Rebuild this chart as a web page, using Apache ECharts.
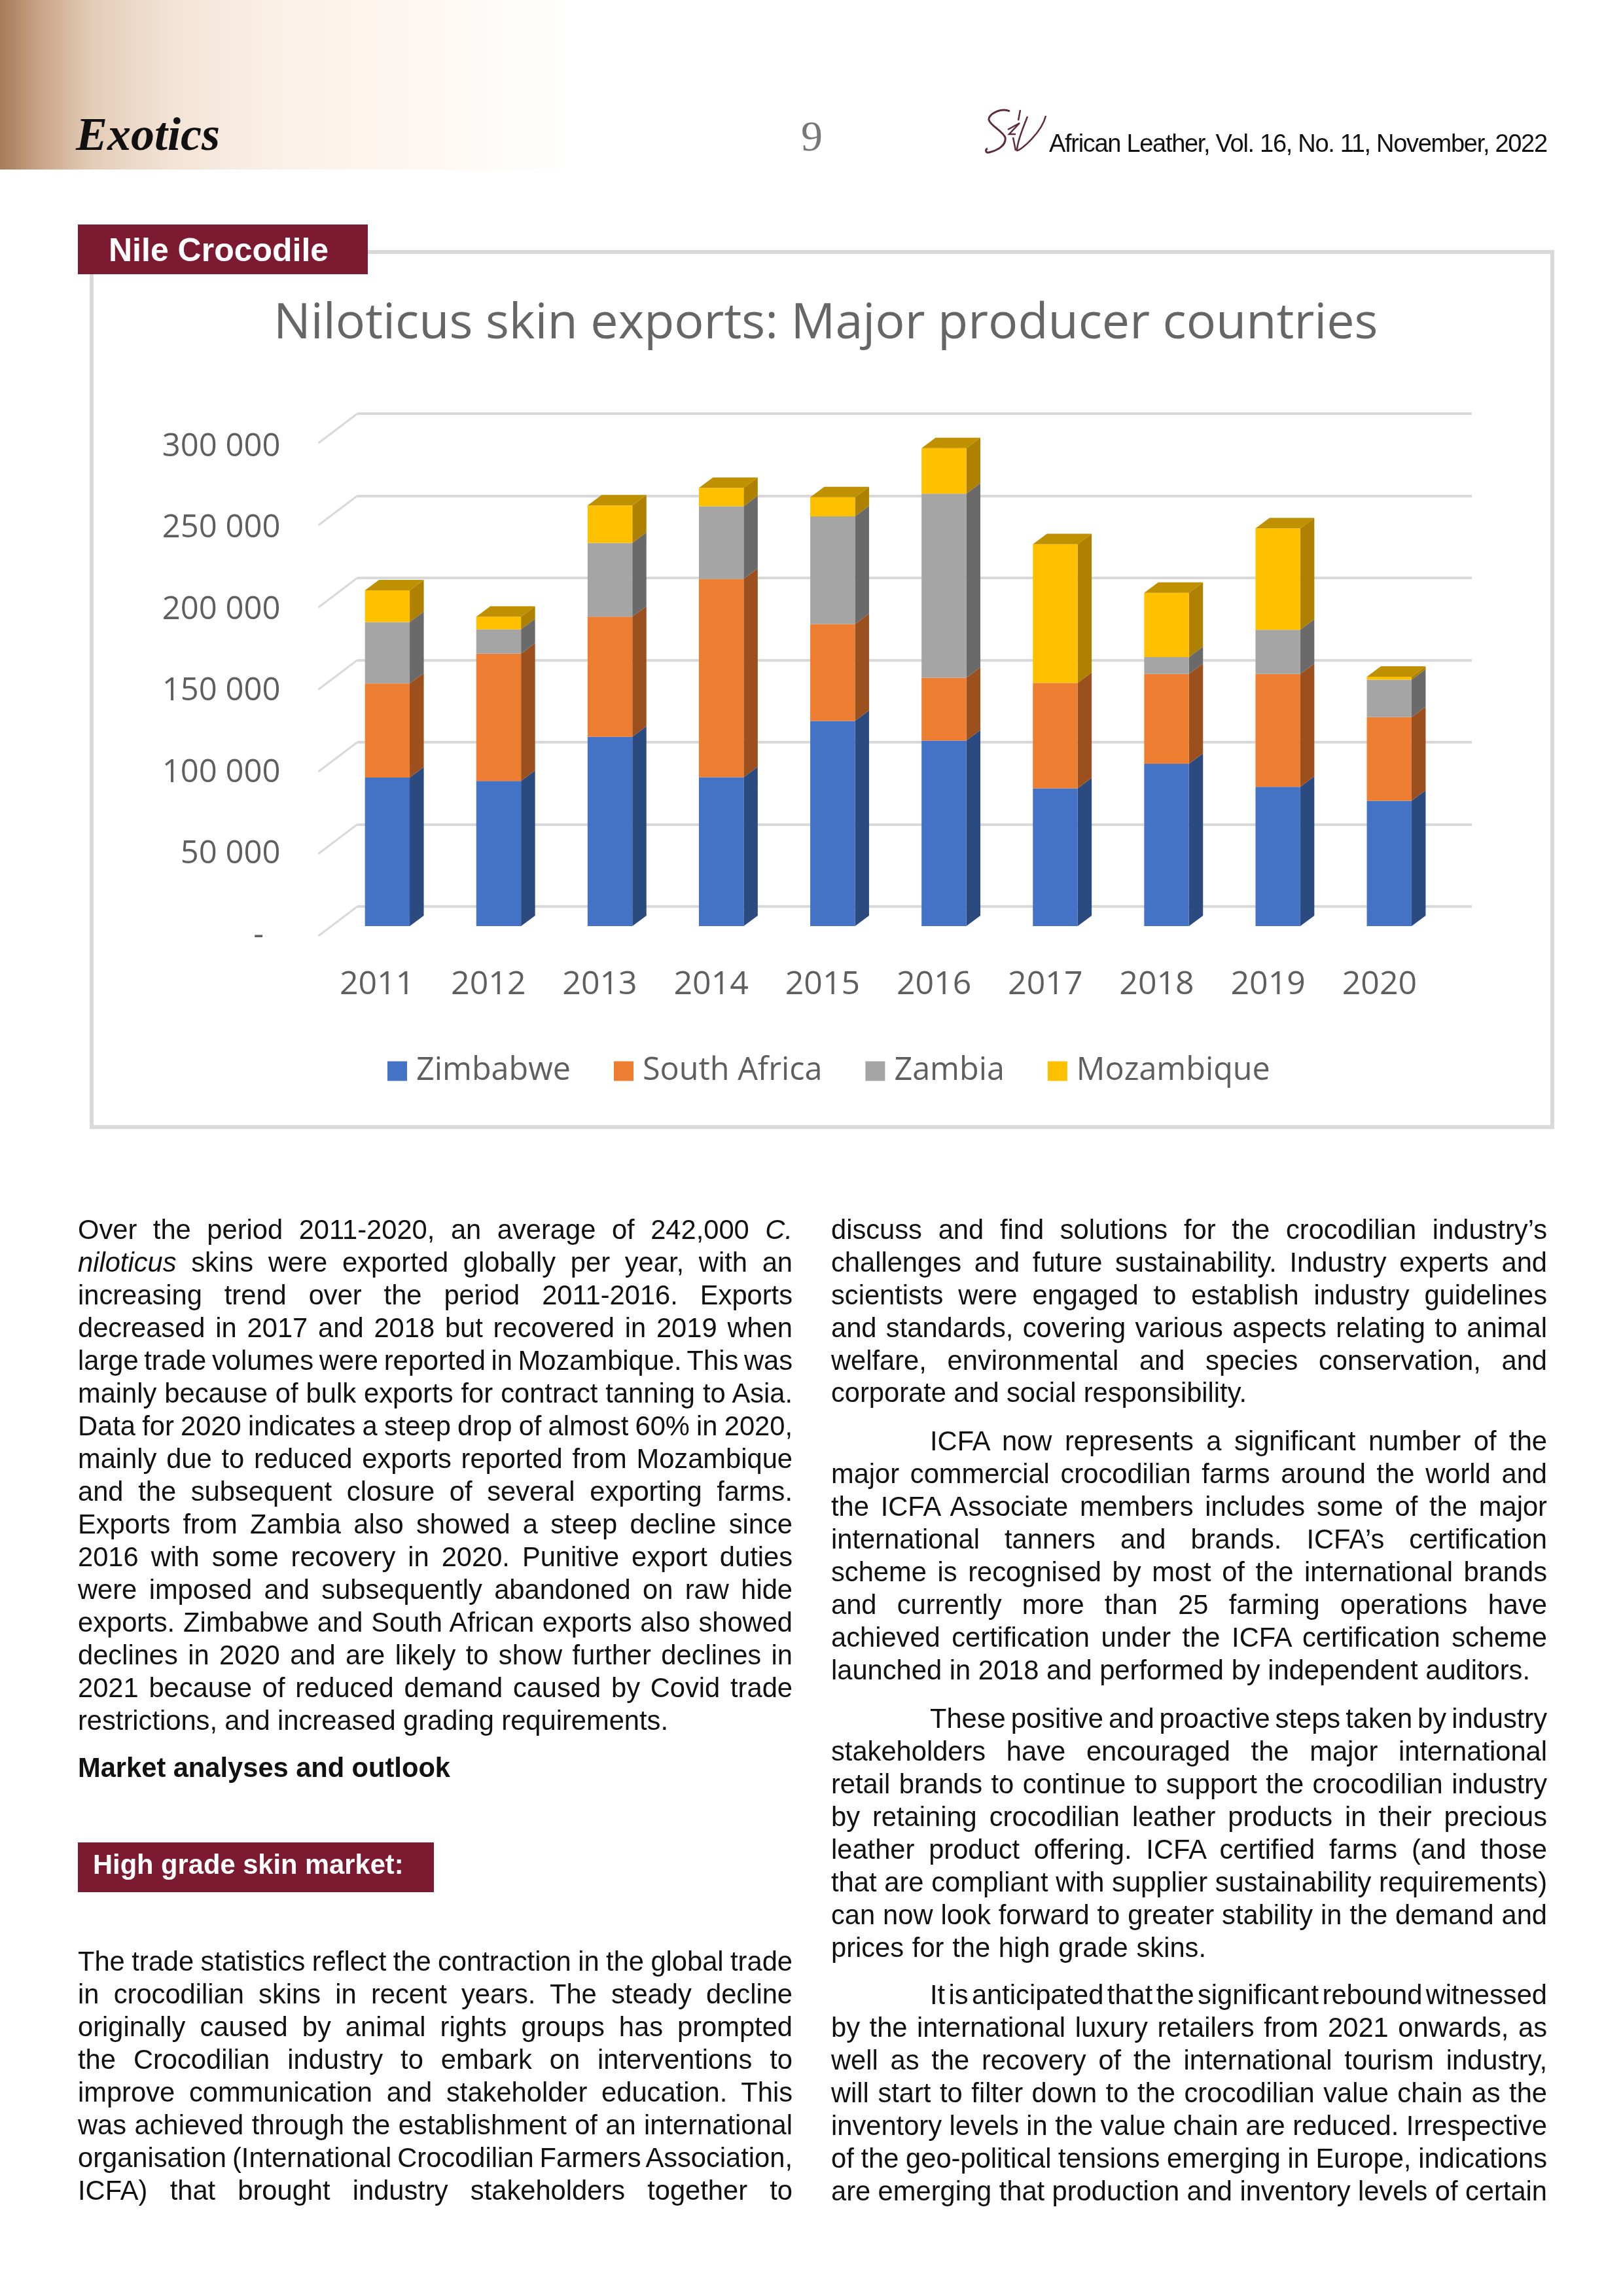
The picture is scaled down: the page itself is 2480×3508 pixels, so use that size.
<!DOCTYPE html>
<html>
<head>
<meta charset="utf-8">
<script src="https://cdn.jsdelivr.net/npm/echarts@6/dist/echarts.min.js"></script>
<style>
html,body{margin:0;padding:0;background:#fff;width:2480px;height:3508px;overflow:hidden}
#chart{position:absolute;left:0;top:0;width:2480px;height:3508px;filter:blur(0.7px)}
#page{position:absolute;left:0;top:0;width:2480px;height:3508px;pointer-events:none}
.band{position:absolute;left:0;top:0;width:880px;height:259px;background:linear-gradient(90deg,#a67b57 0%,#c9a588 7%,#e4cdb8 16%,#f3e3d5 30%,#fbf1e8 50%,#fdf6f0 70%,#ffffff 100%)}
.abs{position:absolute;white-space:pre}
.box{position:absolute;background:#7b1a30}
.ln{position:absolute;white-space:pre;font-family:"Liberation Sans",Arial,sans-serif;font-size:41.67px;line-height:50px;color:#111}
</style>
</head>
<body>
<div id="chart"></div>
<div id="page">
  <div class="band"></div>
  <div class="abs" style="left:116px;top:164px;font:italic bold 72px 'Liberation Serif',serif;color:#111">Exotics</div>
  <div class="abs" style="left:1224px;top:170px;font:66px 'Liberation Serif',serif;color:#777">9</div>
  <svg class="abs" style="left:1480px;top:150px" width="200" height="100" viewBox="0 0 200 100">
    <path d="M63 20 C50 14 30 24 31 33 C33 42 52 50 56 60 C58 72 44 80 31 83 C25 84 26 78 29 77" fill="none" stroke="#5c2c3e" stroke-width="3"/>
    <path d="M79 18 L76 34 M60 48 L78 38 L62 55 L72 55 M68 60 L72 80" fill="none" stroke="#5c2c3e" stroke-width="2.5"/>
    <path d="M90 28 C84 44 74 66 74 80 C80 80 112 52 118 27" fill="none" stroke="#5c2c3e" stroke-width="2.5"/>
  </svg>
  <div class="abs" id="hdr" style="left:1603px;top:198px;font:38px 'Liberation Sans',sans-serif;letter-spacing:-1.3px;color:#111">African Leather, Vol. 16, No. 11, November, 2022</div>
  <div class="box" style="left:119px;top:343px;width:443px;height:76px"></div>
  <div class="abs" style="left:166px;top:352px;font:bold 50px/60px 'Liberation Sans',sans-serif;color:#fff">Nile Crocodile</div>
  <div class="box" style="left:119px;top:2815px;width:544px;height:76px"></div>
  <div class="abs" style="left:142px;top:2824px;font:bold 41.67px/50px 'Liberation Sans',sans-serif;color:#fff">High grade skin market:</div>
  <div id="textCols"></div>
</div>
<script>
// ---- chart data ----
const categories = ['2011','2012','2013','2014','2015','2016','2017','2018','2019','2020'];
const yTicks = [0,50000,100000,150000,200000,250000,300000];
const zimbabwe   = [90400, 88300,115200, 90600,124900,112900, 83900, 98800, 84800, 76300];
const southAfrica= [57300, 77500, 73100,120800, 59000, 38300, 64100, 54700, 68700, 50900];
const zambia     = [37400, 14900, 45000, 44200, 65500,112000,     0, 10200, 26900, 22800];
const mozambique = [19300,  7600, 22800, 11100, 11700, 27700, 84500, 39200, 61700,  1800];
const seriesNames = ['Zimbabwe','South Africa','Zambia','Mozambique'];
const seriesValues = [zimbabwe,southAfrica,zambia,mozambique];
const faceColors = ['#4472c4','#ed7d31','#a5a5a5','#ffc000'];
const sideColors = ['#2b4a80','#9c501e','#6a6a6a','#ae8200'];
const topColor = '#bf9000';
const chartTitle = 'Niloticus skin exports: Major producer countries';

// ---- page text ----
const L0=119, L1=1211, R0=1270, R1=2364, RI=1421;
const leftLines = [
 [[L0,L1,1878],'Over the period 2011-2020, an average of 242,000 <i>C.</i>'],
 [[L0,L1,1928],'<i>niloticus</i> skins were exported globally per year, with an'],
 [[L0,L1,1978],'increasing trend over the period 2011-2016. Exports'],
 [[L0,L1,2028],'decreased in 2017 and 2018 but recovered in 2019 when'],
 [[L0,L1,2078],'large trade volumes were reported in Mozambique. This was'],
 [[L0,L1,2128],'mainly because of bulk exports for contract tanning to Asia.'],
 [[L0,L1,2178],'Data for 2020 indicates a steep drop of almost 60% in 2020,'],
 [[L0,L1,2228],'mainly due to reduced exports reported from Mozambique'],
 [[L0,L1,2278],'and the subsequent closure of several exporting farms.'],
 [[L0,L1,2328],'Exports from Zambia also showed a steep decline since'],
 [[L0,L1,2378],'2016 with some recovery in 2020. Punitive export duties'],
 [[L0,L1,2428],'were imposed and subsequently abandoned on raw hide'],
 [[L0,L1,2478],'exports. Zimbabwe and South African exports also showed'],
 [[L0,L1,2528],'declines in 2020 and are likely to show further declines in'],
 [[L0,L1,2578],'2021 because of reduced demand caused by Covid trade'],
 [[L0,1021,2628],'restrictions, and increased grading requirements.'],
 [[L0,688,2700],'<b>Market analyses and outlook</b>'],
 [[L0,L1,2996],'The trade statistics reflect the contraction in the global trade'],
 [[L0,L1,3046],'in crocodilian skins in recent years. The steady decline'],
 [[L0,L1,3096],'originally caused by animal rights groups has prompted'],
 [[L0,L1,3146],'the Crocodilian industry to embark on interventions to'],
 [[L0,L1,3196],'improve communication and stakeholder education. This'],
 [[L0,L1,3246],'was achieved through the establishment of an international'],
 [[L0,L1,3296],'organisation (International Crocodilian Farmers Association,'],
 [[L0,L1,3346],'ICFA) that brought industry stakeholders together to']
];
const rightLines = [
 [[R0,R1,1878],'discuss and find solutions for the crocodilian industry\u2019s'],
 [[R0,R1,1928],'challenges and future sustainability. Industry experts and'],
 [[R0,R1,1978],'scientists were engaged to establish industry guidelines'],
 [[R0,R1,2028],'and standards, covering various aspects relating to animal'],
 [[R0,R1,2078],'welfare, environmental and species conservation, and'],
 [[R0,1905,2127],'corporate and social responsibility.'],
 [[RI,R1,2201],'ICFA now represents a significant number of the'],
 [[R0,R1,2251],'major commercial crocodilian farms around the world and'],
 [[R0,R1,2301],'the ICFA Associate members includes some of the major'],
 [[R0,R1,2351],'international tanners and brands. ICFA\u2019s certification'],
 [[R0,R1,2401],'scheme is recognised by most of the international brands'],
 [[R0,R1,2451],'and currently more than 25 farming operations have'],
 [[R0,R1,2501],'achieved certification under the ICFA certification scheme'],
 [[R0,2338,2551],'launched in 2018 and performed by independent auditors.'],
 [[RI,R1,2625],'These positive and proactive steps taken by industry'],
 [[R0,R1,2675],'stakeholders have encouraged the major international'],
 [[R0,R1,2725],'retail brands to continue to support the crocodilian industry'],
 [[R0,R1,2775],'by retaining crocodilian leather products in their precious'],
 [[R0,R1,2825],'leather product offering. ICFA certified farms (and those'],
 [[R0,R1,2875],'that are compliant with supplier sustainability requirements)'],
 [[R0,R1,2925],'can now look forward to greater stability in the demand and'],
 [[R0,1843,2975],'prices for the high grade skins.'],
 [[RI,R1,3047],'It is anticipated that the significant rebound witnessed'],
 [[R0,R1,3097],'by the international luxury retailers from 2021 onwards, as'],
 [[R0,R1,3147],'well as the recovery of the international tourism industry,'],
 [[R0,R1,3197],'will start to filter down to the crocodilian value chain as the'],
 [[R0,R1,3247],'inventory levels in the value chain are reduced. Irrespective'],
 [[R0,R1,3297],'of the geo-political tensions emerging in Europe, indications'],
 [[R0,R1,3347],'are emerging that production and inventory levels of certain']
];

const cols = document.getElementById('textCols');
leftLines.concat(rightLines).forEach(function(l){
  const d = document.createElement('div');
  d.className = 'ln';
  d.innerHTML = l[1];
  d.style.left = l[0][0]+'px';
  d.style.top = (l[0][2]-24.5)+'px';
  cols.appendChild(d);
  const natural = d.getBoundingClientRect().width;
  const target = l[0][1]-l[0][0];
  const gaps = (d.textContent.match(/ /g)||[]).length;
  if (gaps>0) d.style.wordSpacing = ((target-natural)/gaps)+'px';
});

// ---- ECharts ----
const FONT = '"Open Sans","Noto Sans",sans-serif';
const TXT = '#5f5f5f';
const DX = 21.5, DY = 16;

function barSeries(idx){
  const below = categories.map(function(_,i){
    let s=0; for(let k=0;k<idx;k++) s+=seriesValues[k][i]; return s;
  });
  const isTop = idx===seriesValues.length-1;
  return {
    name: seriesNames[idx], type:'custom', xAxisIndex:0, yAxisIndex:0, z:5+idx,
    itemStyle:{color:faceColors[idx]},
    data: categories.map(function(c,i){ return [i, below[i], below[i]+seriesValues[idx][i]]; }),
    encode:{x:0,y:[1,2]},
    renderItem:function(params,api){
      const i=api.value(0), lo=api.coord([i,api.value(1)]), hi=api.coord([i,api.value(2)]);
      const bw=api.size([1,0])[0]*0.402, l=lo[0]-bw/2, r=lo[0]+bw/2, yb=lo[1], yt=hi[1];
      const kids=[];
      if(yb-yt>0.01){
        kids.push({type:'polygon',shape:{points:[[r,yb],[r+DX,yb-DY],[r+DX,yt-DY],[r,yt]]},style:{fill:sideColors[idx]}});
        kids.push({type:'rect',shape:{x:l,y:yt,width:bw,height:yb-yt},style:{fill:faceColors[idx]}});
      }
      if(isTop){
        kids.push({type:'polygon',shape:{points:[[l,yt],[r,yt],[r+DX,yt-DY],[l+DX,yt-DY]]},style:{fill:topColor}});
      }
      return {type:'group',children:kids};
    }
  };
}

const option = {
  animation:false,
  backgroundColor:'#ffffff',
  title:{text:chartTitle,left:418,top:458,padding:0,textStyle:{fontFamily:FONT,fontSize:75.4,fontWeight:400,color:'#666666'}},
  legend:{left:592,top:1612,padding:0,itemWidth:30,itemHeight:30,itemGap:66,icon:'rect',selectedMode:false,
    data:seriesNames,textStyle:{fontFamily:FONT,fontSize:48.5,color:TXT,padding:[0,0,0,9]}},
  grid:[
    {left:506.8,top:662,width:1701,height:753},   // bars (front plane)
    {left:546,top:632,width:1703,height:753},     // back wall
    {left:486.5,top:677,width:59.5,height:753},   // side wall
    {left:491,top:677,width:1702,height:753},     // category labels
    {left:486.5,top:683,width:59.5,height:747}    // value labels
  ],
  xAxis:[
    {gridIndex:0,type:'category',data:categories,show:false},
    {gridIndex:1,type:'value',min:0,max:1,show:false},
    {gridIndex:2,type:'value',min:0,max:1,show:false},
    {gridIndex:3,type:'category',data:categories,axisLine:{show:false},axisTick:{show:false},
      axisLabel:{interval:0,margin:50,fontFamily:FONT,fontSize:50,color:TXT}},
    {gridIndex:4,type:'value',min:0,max:1,show:false}
  ],
  yAxis:[
    {gridIndex:0,type:'value',min:0,max:300000,interval:50000,show:false},
    {gridIndex:1,type:'value',min:0,max:300000,interval:50000,axisLine:{show:false},axisTick:{show:false},axisLabel:{show:false},
      splitLine:{show:true,lineStyle:{color:'#d9d9d9',width:4}}},
    {gridIndex:2,type:'value',min:0,max:300000,interval:50000,show:false},
    {gridIndex:3,type:'value',min:0,max:300000,show:false},
    {gridIndex:4,type:'value',min:0,max:300000,interval:50000,axisLine:{show:false},axisTick:{show:false},splitLine:{show:false},
      axisLabel:{margin:58,fontFamily:FONT,fontSize:49,color:TXT,
        formatter:function(v){ return v===0?'-\u00a0\u00a0':String(v).replace(/\B(?=(\d{3})+$)/g,' '); }}}
  ],
  graphic:[{type:'rect',z:-1,shape:{x:140,y:385,width:2232,height:1337},style:{fill:'#fff',stroke:'#d9d9d9',lineWidth:6}}],
  series:[
    {type:'custom',xAxisIndex:2,yAxisIndex:2,silent:true,z:1,
     data:yTicks.map(function(v){return [v];}),encode:{y:0},
     renderItem:function(params,api){
       const c=params.coordSys, y=api.coord([0,api.value(0)])[1];
       return {type:'line',shape:{x1:c.x,y1:y,x2:c.x+c.width,y2:y-45},style:{stroke:'#d9d9d9',lineWidth:3}};
     }}
  ].concat(seriesValues.map(function(_,i){return barSeries(i);}))
};
const chart = echarts.init(document.getElementById('chart'),null,{renderer:'canvas'});
chart.setOption(option);
</script>
</body>
</html>
